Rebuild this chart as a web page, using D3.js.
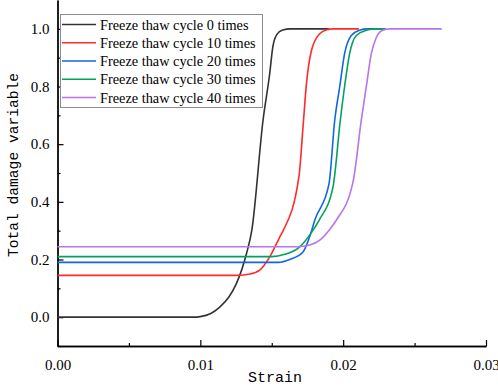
<!DOCTYPE html>
<html>
<head>
<meta charset="utf-8">
<script src="https://cdn.jsdelivr.net/npm/d3@7"></script>
<style>
  body { margin: 0; background: #fff; }
  svg { display: block; }
</style>
</head>
<body>
<div id="chart"></div>
<script>
const seriesNames = ["Freeze thaw cycle 0 times", "Freeze thaw cycle 10 times", "Freeze thaw cycle 20 times",
    "Freeze thaw cycle 30 times", "Freeze thaw cycle 40 times"];
const seriesColors = ["#333333", "#ff2a2a", "#1366e0", "#05a060", "#b874e8"];

// [strain, damage]
const cycle0 = [[0, 0], [0.0095, 0], [0.0100, 0.002], [0.0107, 0.012], [0.01136, 0.035], [0.0120, 0.07],
    [0.01253, 0.117], [0.01323, 0.22], [0.0136, 0.30], [0.01439, 0.683], [0.01486, 0.846], [0.01507, 0.936],
    [0.01535, 0.98], [0.01577, 0.996], [0.0163, 1.0], [0.0190, 1.0]];
const cycle10 = [[0, 0.145], [0.0125, 0.145], [0.0135, 0.150], [0.01416, 0.163], [0.01486, 0.209],
    [0.01556, 0.278], [0.0158, 0.30], [0.01691, 0.49], [0.01719, 0.66], [0.01743, 0.81], [0.01778, 0.925],
    [0.01836, 0.983], [0.01885, 0.997], [0.0193, 1.0], [0.0211, 1.0]];
const cycle20 = [[0, 0.19], [0.0155, 0.19], [0.01626, 0.20], [0.01719, 0.226], [0.01773, 0.29],
    [0.01801, 0.336], [0.01901, 0.463], [0.01941, 0.683], [0.01976, 0.80], [0.0201, 0.914],
    [0.02057, 0.977], [0.02115, 0.995], [0.0217, 1.0], [0.0228, 1.0]];
const cycle30 = [[0, 0.21], [0.0150, 0.21], [0.01591, 0.218], [0.01696, 0.244], [0.0178, 0.295],
    [0.01831, 0.336], [0.01929, 0.452], [0.0198, 0.683], [0.0201, 0.80], [0.02045, 0.914],
    [0.02092, 0.977], [0.02162, 0.995], [0.0222, 1.0], [0.0230, 1.0]];
const cycle40 = [[0, 0.244], [0.0168, 0.244], [0.01766, 0.25], [0.01836, 0.267], [0.01899, 0.30],
    [0.01952, 0.336], [0.02069, 0.469], [0.02127, 0.683], [0.02162, 0.80], [0.02197, 0.914],
    [0.02232, 0.97], [0.02276, 0.995], [0.02325, 1.0], [0.0269, 1.0]];
const allSeries = [cycle0, cycle10, cycle20, cycle30, cycle40];

const xTicks = [0, 0.01, 0.02, 0.03];
const yTicks = [0, 0.2, 0.4, 0.6, 0.8, 1.0];

const serif = "'Liberation Serif', 'Times New Roman', 'DejaVu Serif', serif";
const mono = "'Liberation Mono', 'Courier New', 'DejaVu Sans Mono', monospace";

const width = 498, height = 388;
const margin = {top: 0, left: 57.5, right: 12, bottom: 42};

const svg = d3.select("#chart").append("svg")
    .attr("width", width)
    .attr("height", height);

const xScale = d3.scaleLinear().domain([0, 0.03]).range([margin.left, width - margin.right]);
const yScale = d3.scaleLinear().domain([-0.1, 1.1]).range([height - margin.bottom, margin.top]);

const line = d3.line()
    .x(d => xScale(d[0]))
    .y(d => yScale(d[1]))
    .curve(d3.curveMonotoneX);

// axes, ticks pointing inward
const xAxis = d3.axisBottom(xScale).tickValues(xTicks).tickFormat(d3.format(".2f")).tickSizeInner(-6).tickSizeOuter(0).tickPadding(13);
const xMinor = d3.axisBottom(xScale).tickValues(d3.range(0.005, 0.03, 0.01)).tickFormat("").tickSizeInner(-3).tickSizeOuter(0);
const yAxis = d3.axisLeft(yScale).tickValues(yTicks).tickFormat(d3.format(".1f")).tickSizeInner(-6).tickSizeOuter(0).tickPadding(8);
const yMinor = d3.axisLeft(yScale).tickValues([-0.1, 0.1, 0.3, 0.5, 0.7, 0.9]).tickFormat("").tickSizeInner(-3).tickSizeOuter(0);

const axisY = height - margin.bottom;
[xAxis, xMinor].forEach(a => {
    svg.append("g")
        .attr("transform", `translate(0,${axisY})`)
        .call(a)
        .call(g => g.select(".domain").attr("stroke-width", 1.3))
        .call(g => g.selectAll(".tick line").attr("stroke-width", 1.2))
        .call(g => g.selectAll("text").style("font-family", serif).style("font-size", "15px").attr("fill", "#000"));
});
[yAxis, yMinor].forEach(a => {
    svg.append("g")
        .attr("transform", `translate(${margin.left},0)`)
        .call(a)
        .call(g => g.select(".domain").attr("stroke-width", 1.3))
        .call(g => g.selectAll(".tick line").attr("stroke-width", 1.2))
        .call(g => g.selectAll("text").style("font-family", serif).style("font-size", "15px").attr("fill", "#000"));
});

// curves
allSeries.forEach((s, i) => {
    svg.append("path")
        .attr("d", line(s))
        .attr("fill", "none")
        .attr("stroke", seriesColors[i])
        .attr("stroke-width", 1.6);
});

// axis titles
svg.append("text")
    .attr("x", 275)
    .attr("y", 382)
    .attr("text-anchor", "middle")
    .style("font-family", mono)
    .style("font-size", "15px")
    .text("Strain");

svg.append("text")
    .attr("transform", "translate(18,165) rotate(-90)")
    .attr("text-anchor", "middle")
    .style("font-family", mono)
    .style("font-size", "14.6px")
    .text("Total damage variable");

// legend
const legend = svg.append("g");
legend.append("rect")
    .attr("x", 60.5).attr("y", 14.5)
    .attr("width", 202).attr("height", 93)
    .attr("fill", "#fff")
    .attr("stroke", "#8c8c8c")
    .attr("stroke-width", 1);

seriesNames.forEach((name, i) => {
    const y = 24.5 + i * 18.25;
    legend.append("line")
        .attr("x1", 62).attr("x2", 96)
        .attr("y1", y).attr("y2", y)
        .attr("stroke", seriesColors[i])
        .attr("stroke-width", 1.6);
    legend.append("text")
        .attr("x", 100)
        .attr("y", y + 5)
        .style("font-family", serif)
        .style("font-size", "14.3px")
        .text(name);
});
</script>
</body>
</html>
